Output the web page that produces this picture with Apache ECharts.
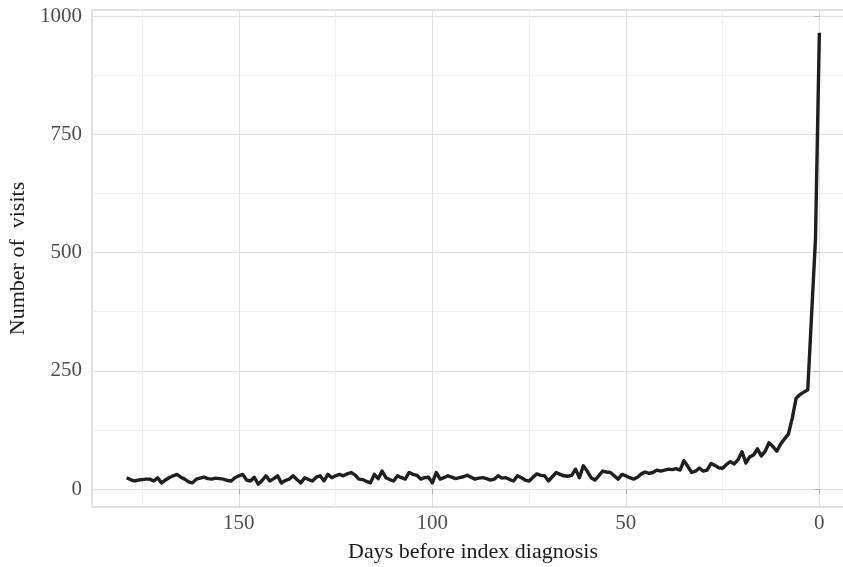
<!DOCTYPE html>
<html>
<head>
<meta charset="utf-8">
<style>
  html, body { margin: 0; padding: 0; background: #fff; }
  #chart { width: 843px; height: 567px; }
</style>
</head>
<body>
<div id="chart"></div>
<script src="https://cdn.jsdelivr.net/npm/echarts@6/dist/echarts.min.js"></script>
<script>
// days before diagnosis, 179 down to 0
const days = [
  179, 178, 177, 176, 175, 174, 173, 172, 171, 170,
  169, 168, 167, 166, 165, 164, 163, 162, 161, 160,
  159, 158, 157, 156, 155, 154, 153, 152, 151, 150,
  149, 148, 147, 146, 145, 144, 143, 142, 141, 140,
  139, 138, 137, 136, 135, 134, 133, 132, 131, 130,
  129, 128, 127, 126, 125, 124, 123, 122, 121, 120,
  119, 118, 117, 116, 115, 114, 113, 112, 111, 110,
  109, 108, 107, 106, 105, 104, 103, 102, 101, 100,
  99, 98, 97, 96, 95, 94, 93, 92, 91, 90,
  89, 88, 87, 86, 85, 84, 83, 82, 81, 80,
  79, 78, 77, 76, 75, 74, 73, 72, 71, 70,
  69, 68, 67, 66, 65, 64, 63, 62, 61, 60,
  59, 58, 57, 56, 55, 54, 53, 52, 51, 50,
  49, 48, 47, 46, 45, 44, 43, 42, 41, 40,
  39, 38, 37, 36, 35, 34, 33, 32, 31, 30,
  29, 28, 27, 26, 25, 24, 23, 22, 21, 20,
  19, 18, 17, 16, 15, 14, 13, 12, 11, 10,
  9, 8, 7, 6, 5, 4, 3, 2, 1, 0
];

// number of visits, same order as days
const visits = [
  24, 20, 17, 19, 20, 21, 21, 17, 24, 13,
  19, 24, 28, 31, 25, 21, 15, 13, 21, 23,
  25, 22, 21, 23, 22, 21, 18, 17, 24, 28,
  31, 19, 17, 25, 10, 18, 28, 17, 22, 28,
  13, 18, 21, 28, 20, 13, 24, 20, 17, 25,
  28, 17, 31, 24, 28, 31, 28, 32, 35, 30,
  21, 20, 16, 13, 31, 22, 38, 24, 20, 17,
  28, 24, 21, 35, 31, 29, 21, 24, 25, 13,
  35, 21, 24, 28, 25, 22, 24, 26, 29, 25,
  21, 23, 24, 22, 19, 21, 28, 23, 24, 20,
  17, 28, 24, 19, 17, 25, 32, 29, 28, 17,
  26, 35, 31, 28, 27, 29, 42, 24, 49, 38,
  24, 19, 28, 38, 36, 35, 28, 21, 31, 28,
  24, 21, 25, 32, 36, 33, 35, 40, 38, 40,
  42, 41, 43, 40, 60, 48, 35, 38, 44, 38,
  40, 54, 50, 45, 44, 52, 58, 53, 62, 79,
  55, 68, 72, 85, 70, 80, 98, 90, 80, 95,
  106, 116, 150, 192, 200, 205, 210, 370, 530, 965
];

const xMajor = [0, 50, 100, 150];
const xMinor = [25, 75, 125, 175];
const yMajor = [0, 250, 500, 750, 1000];
const yMinor = [125, 375, 625, 875];

const serif = '"Liberation Serif", "DejaVu Serif", serif';
const xRange = { min: -8.95, max: 187.95 };
const yRange = { min: -38, max: 1013 };

const chart = echarts.init(document.getElementById('chart'));

const option = {
  animation: false,
  grid: {
    left: 92, right: -11, top: 10, bottom: 60,
    containLabel: false, outerBoundsMode: 'none',
    show: true, borderColor: '#c4c4c4', borderWidth: 1, backgroundColor: 'transparent'
  },
  xAxis: [
    {
      type: 'value', inverse: true, min: xRange.min, max: xRange.max,
      name: 'Days before index diagnosis', nameLocation: 'middle', nameGap: 34,
      nameTextStyle: { fontFamily: serif, fontSize: 22, color: '#1a1a1a' },
      axisLine: { show: false },
      axisTick: { show: true, length: 5, customValues: xMajor, lineStyle: { color: '#b3b3b3' } },
      axisLabel: { customValues: xMajor, margin: 6, fontFamily: serif, fontSize: 21, color: '#4d4d4d',
        formatter: v => String(v) },
      splitLine: { show: true, lineStyle: { color: '#e0e0e0', width: 1 } }
    },
    {
      type: 'value', inverse: true, min: xRange.min, max: xRange.max,
      position: 'bottom',
      axisLine: { show: false },
      axisTick: { show: false, customValues: xMinor },
      axisLabel: { show: false, customValues: xMinor },
      splitLine: { show: true, lineStyle: { color: '#efefef', width: 1 } }
    }
  ],
  yAxis: [
    {
      type: 'value', min: yRange.min, max: yRange.max,
      name: 'Number of  visits', nameLocation: 'middle', nameGap: 57,
      nameTextStyle: { fontFamily: serif, fontSize: 22, color: '#1a1a1a' },
      axisLine: { show: false },
      axisTick: { show: true, length: 5, customValues: yMajor, lineStyle: { color: '#b3b3b3' } },
      axisLabel: { customValues: yMajor, margin: 10, fontFamily: serif, fontSize: 21, color: '#4d4d4d',
        formatter: v => String(v) },
      splitLine: { show: true, lineStyle: { color: '#e0e0e0', width: 1 } }
    },
    {
      type: 'value', min: yRange.min, max: yRange.max,
      position: 'left',
      axisLine: { show: false },
      axisTick: { show: false, customValues: yMinor },
      axisLabel: { show: false, customValues: yMinor },
      splitLine: { show: true, lineStyle: { color: '#efefef', width: 1 } }
    }
  ],
  series: [
    {
      type: 'line',
      xAxisIndex: 0,
      yAxisIndex: 0,
      data: days.map((d, i) => [d, visits[i]]),
      showSymbol: false,
      lineStyle: { color: '#1f1f1f', width: 3.4, join: 'round' },
      z: 5
    }
  ]
};

chart.setOption(option);
</script>
</body>
</html>
